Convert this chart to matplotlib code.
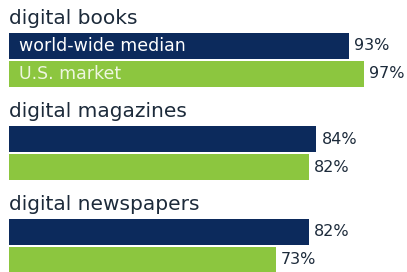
import matplotlib.pyplot as plt

# categories and values (percent)
categories = ["digital books", "digital magazines", "digital newspapers"]
world_median = [93, 84, 82]
us_market = [97, 82, 73]
series_labels = ["world-wide median", "U.S. market"]

navy = "#0c2a5c"
green = "#8cc63f"
text_col = "#1c2a3a"

plt.rcParams["font.family"] = ["DejaVu Sans"]

fig = plt.figure(figsize=(4.07, 2.72), dpi=100)
ax = fig.add_axes([0, 0, 1, 1])
px = 3.655  # pixels per percent
ax.set_xlim(-9 / px, (407 - 9) / px)
ax.set_ylim(272, 0)
ax.axis("off")

bar_h = 26
for i, cat in enumerate(categories):
    top = 33 + i * 93
    y1 = top + bar_h / 2
    y2 = y1 + bar_h + 2
    ax.barh(y1, world_median[i], height=bar_h, left=0, color=navy)
    ax.barh(y2, us_market[i], height=bar_h, left=0, color=green)
    ax.text(0, top - 9, cat, fontsize=14.5, color=text_col, va="baseline", ha="left")
    ax.text(world_median[i] + 1.5, y1, f"{world_median[i]}%", fontsize=11.5,
            color=text_col, va="center", ha="left")
    ax.text(us_market[i] + 1.4, y2, f"{us_market[i]}%", fontsize=11.5,
            color=text_col, va="center", ha="left")
    if i == 0:
        ax.text(2.7, y1, series_labels[0], fontsize=12.5, color="white",
                va="center", ha="left")
        ax.text(2.7, y2, series_labels[1], fontsize=12.5, color="#eef6e0",
                va="center", ha="left")

fig.savefig("out.png", dpi=100)
